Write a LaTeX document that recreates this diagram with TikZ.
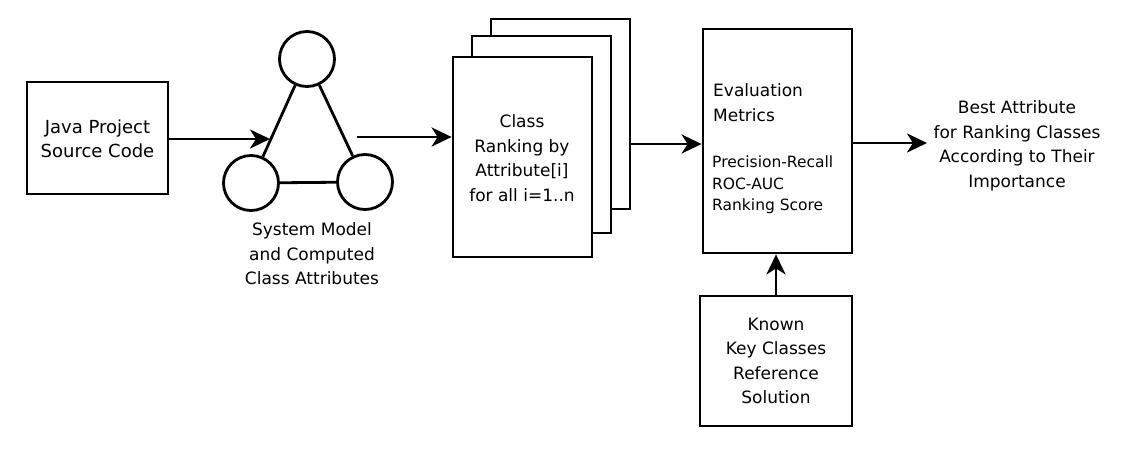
\documentclass[tikz,border=0pt]{standalone}
\usepackage{fontspec}
\setmainfont{DejaVu Sans}
\usetikzlibrary{arrows.meta,calc}
\begin{document}
\begin{tikzpicture}[x=1pt,y=-1pt,
  box/.style={draw,line width=2.8pt,fill=white,inner sep=0pt},
  circ/.style={draw,circle,line width=2.8pt,minimum size=55pt,inner sep=0pt},
  conn/.style={line width=2.8pt},
  arr/.style={line width=2.8pt,-{Stealth[length=20pt,width=19pt,inset=6pt]}},
  txt/.style={align=center,font=\fontsize{17}{24.5}\selectfont,inner sep=0pt},
  small/.style={align=left,font=\fontsize{15.5}{21.5}\selectfont,inner sep=0pt}]
\useasboundingbox (0,0) rectangle (1127,448);
\fill[white] (0,0) rectangle (1127,448);
% Java box
\node[box,minimum width=141pt,minimum height=112pt] (java) at (97.5,138) {};
\node[txt,font=\fontsize{18}{23.5}\selectfont] (javat) at (97.5,139) {Java Project\\Source Code};
% circles
\node[circ] (top) at (307,59) {};
\node[circ] (bl) at (251,183) {};
\node[circ] (br) at (365,182) {};
\draw[conn] (top) -- (bl);
\draw[conn] (top) -- (br);
\draw[conn] (bl) -- (br);
\node[txt] (sysm) at (312,254) {System Model\\and Computed\\Class Attributes};
% stack
\node[box,minimum width=139pt,minimum height=190pt] (back) at (560.5,114) {};
\node[box,minimum width=139pt,minimum height=197pt] (mid) at (541.5,134.5) {};
\node[box,minimum width=139pt,minimum height=200pt] (front) at (522.5,157) {};
\node[txt] (frontt) at (522,158) {Class\\Ranking by\\Attribute[i]\\for all i=1..n};
% evaluation
\node[box,minimum width=149pt,minimum height=224pt] (eval) at (777.5,141) {};
\node[txt,align=left,anchor=west] (evalt) at (713,102.5) {Evaluation\\Metrics};
\node[small,anchor=west] (evals) at (712,185) {Precision-Recall\\ROC-AUC\\Ranking Score};
% known
\node[box,minimum width=152pt,minimum height=130pt] (known) at (776,361) {};
\node[txt] (knownt) at (776,361) {Known\\Key Classes\\Reference\\Solution};
% output
\node[txt] (best) at (1017,146) {Best Attribute\\for Ranking Classes\\According to Their\\Importance};
% connectors
\coordinate (in1) at (270,139);
\draw[arr] (java.east |- in1) -- (in1);
\coordinate (out1) at (357,137);
\draw[arr] (out1) -- (out1 -| front.west);
\coordinate (out2) at (630,144);
\draw[arr] (out2 -| back.east) -- (out2 -| eval.west);
\coordinate (out3) at (927,143);
\draw[arr] (out3 -| eval.east) -- (out3);
\draw[arr] (known.north) -- (known.north |- eval.south);
\end{tikzpicture}
\end{document}
